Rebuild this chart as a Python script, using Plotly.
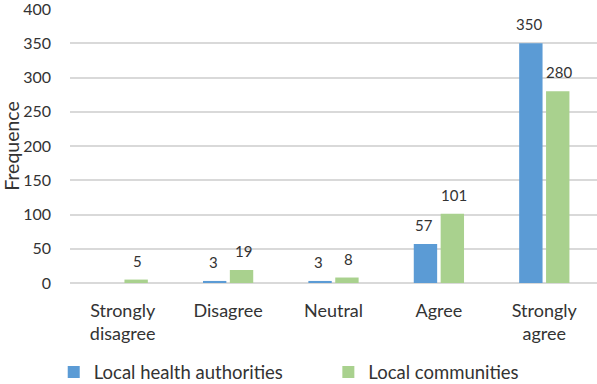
import plotly.graph_objects as go

categories = ["Strongly<br>disagree", "Disagree", "Neutral", "Agree", "Strongly<br>agree"]
health_authorities = [0, 3, 3, 57, 350]
local_communities = [5, 19, 8, 101, 280]
series_names = ["Local health authorities", "Local communities"]
y_ticks = [0, 50, 100, 150, 200, 250, 300, 350, 400]

BLUE = "#5B9BD5"
GREEN = "#A9D18E"
TXT = "#333333"
FONT = "Lato"

fig = go.Figure()
fig.add_trace(go.Bar(x=categories, y=health_authorities, name=series_names[0],
                     marker=dict(color=BLUE, line=dict(width=0)), legend="legend"))
fig.add_trace(go.Bar(x=categories, y=local_communities, name=series_names[1],
                     marker=dict(color=GREEN, line=dict(width=0)), legend="legend2"))

annots = []
for vals, shift in ((health_authorities, -15), (local_communities, 15)):
    for c, v in zip(categories, vals):
        if v == 0:
            continue
        annots.append(dict(x=c, y=v, text=str(v), showarrow=False, xshift=shift, yshift=19,
                           yanchor="middle", font=dict(family=FONT, size=15, color=TXT)))

leg_common = dict(orientation="h", xref="container", xanchor="left",
                  y=0.03, yref="container", yanchor="middle",
                  font=dict(family=FONT, size=18.5, color=TXT), itemwidth=30,
                  bgcolor="rgba(0,0,0,0)")

fig.update_layout(
    width=597, height=384,
    margin=dict(l=70, r=0, t=9, b=101, autoexpand=False),
    paper_bgcolor="white", plot_bgcolor="white",
    barmode="group", bargap=0.49, bargroupgap=0.13,
    font=dict(family=FONT, color=TXT),
    annotations=annots,
    showlegend=True,
    legend=dict(x=0.09, **leg_common),
    legend2=dict(x=0.55, **leg_common),
    xaxis=dict(range=[-0.5, 4.5], showgrid=False, showline=False, ticks="",
               ticklabelstandoff=15,
               tickfont=dict(family=FONT, size=18, color=TXT)),
    yaxis=dict(range=[0, 400], tickvals=y_ticks, showgrid=True, gridcolor="#D9D9D9",
               gridwidth=1.5, zeroline=True, zerolinecolor="#D9D9D9", zerolinewidth=1.5,
               showline=False, ticks="", ticklabelstandoff=18, ticklabeloverflow="allow",
               tickfont=dict(family=FONT, size=16, color=TXT),
               title=dict(text="Frequence", font=dict(family=FONT, size=19.5, color=TXT), standoff=0)),
)

fig.write_html("out.html", config={"displayModeBar": False},
               post_script="document.body.style.margin='0px';")
